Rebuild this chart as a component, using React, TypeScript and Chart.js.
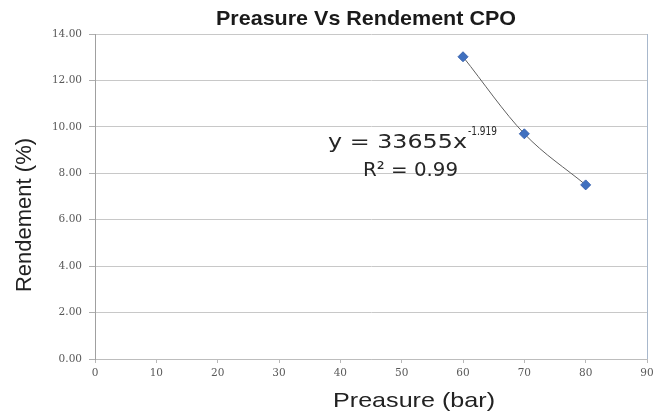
import React, { useEffect, useRef } from 'react';
import { Chart, registerables } from 'chart.js';

Chart.register(...registerables);

// ---- data ----
const pressure = [60, 70, 80];
const rendement = [13.02, 9.7, 7.5];
const xMin = 0;
const xMax = 90;
const xStep = 10;
const yMin = 0;
const yMax = 14;
const yStep = 2;
const chartTitle = 'Preasure Vs Rendement CPO';
const xAxisTitle = 'Preasure (bar)';
const yAxisTitle = 'Rendement (%)';
const equationMain = 'y = 33655x';
const equationExp = '-1.919';
const rSquaredText = 'R\u00B2 = 0.99';

function drawStretched(
  ctx: CanvasRenderingContext2D,
  text: string,
  x: number,
  y: number,
  font: string,
  width: number,
  center = false
) {
  ctx.save();
  ctx.font = font;
  const w = ctx.measureText(text).width;
  const sx = width / w;
  ctx.translate(x, y);
  ctx.scale(sx, 1);
  ctx.textAlign = 'left';
  ctx.textBaseline = 'alphabetic';
  ctx.fillText(text, center ? -w / 2 : 0, 0);
  ctx.restore();
}

const textPlugin = {
  id: 'textPlugin',
  afterDraw(chart: any) {
    const ctx: CanvasRenderingContext2D = chart.ctx;
    ctx.save();
    // title
    ctx.fillStyle = '#1a1a1a';
    drawStretched(ctx, chartTitle, 366, 25, 'bold 21px "Liberation Sans", Arial, sans-serif', 300, true);
    // x axis title
    ctx.fillStyle = '#222222';
    drawStretched(ctx, xAxisTitle, 414, 407, '21px "Liberation Sans", Arial, sans-serif', 162, true);
    // y axis title
    ctx.save();
    ctx.translate(31, 215);
    ctx.rotate(-Math.PI / 2);
    ctx.font = '22px "Liberation Sans", Arial, sans-serif';
    ctx.textAlign = 'center';
    ctx.textBaseline = 'alphabetic';
    ctx.fillText(yAxisTitle, 0, 0);
    ctx.restore();
    // equation
    ctx.fillStyle = '#262626';
    drawStretched(ctx, equationMain, 328, 148, '20px "DejaVu Sans", sans-serif', 139);
    drawStretched(ctx, equationExp, 468, 135, '12px "DejaVu Sans", sans-serif', 29);
    drawStretched(ctx, rSquaredText, 363, 176, '20px "DejaVu Sans", sans-serif', 95);
    ctx.restore();
  },
};

export default function App() {
  const canvasRef = useRef<HTMLCanvasElement | null>(null);

  useEffect(() => {
    document.body.style.margin = '0';
    const canvas = canvasRef.current;
    if (!canvas) return;
    const points = pressure.map((x, i) => ({ x, y: rendement[i] }));
    const chart = new Chart(canvas, {
      type: 'scatter',
      data: {
        datasets: [
          {
            data: points,
            pointStyle: 'rectRot',
            pointRadius: 5,
            pointBackgroundColor: '#4070bf',
            pointBorderColor: '#3a64b0',
            pointBorderWidth: 1,
            showLine: false,
          },
          {
            data: points,
            showLine: true,
            cubicInterpolationMode: 'monotone',
            pointRadius: 0,
            borderColor: '#606060',
            borderWidth: 1,
          },
        ],
      },
      options: {
        animation: false,
        responsive: false,
        maintainAspectRatio: false,
        layout: { padding: { top: 34, left: 0, right: 0, bottom: 0 } },
        plugins: {
          legend: { display: false },
          tooltip: { enabled: false },
          title: { display: false },
        },
        scales: {
          x: {
            type: 'linear',
            min: xMin,
            max: xMax,
            afterFit: (scale: any) => {
              scale.height = 53;
              scale.paddingRight = 3;
            },
            ticks: {
              stepSize: xStep,
              color: '#595959',
              font: { family: '"DejaVu Serif", serif', size: 10.5 },
              padding: 4,
              maxRotation: 0,
            },
            grid: {
              drawOnChartArea: true,
              color: (c: any) => (c.tick && c.tick.value === xMax ? '#a8b8cc' : 'rgba(0,0,0,0)'),
              tickColor: '#b8b8b8',
              tickLength: 4,
            },
            border: { color: '#bdbdbd', width: 1 },
          },
          y: {
            type: 'linear',
            min: yMin,
            max: yMax,
            afterFit: (scale: any) => {
              scale.width = 95;
            },
            ticks: {
              stepSize: yStep,
              color: '#595959',
              font: { family: '"DejaVu Serif", serif', size: 10.5 },
              padding: 7,
              callback: (v: any) => Number(v).toFixed(2),
            },
            grid: {
              color: '#c8c8c8',
              tickColor: '#b0b0b0',
              tickLength: 6,
            },
            border: { color: '#a0a0a0', width: 1 },
          },
        },
      },
      plugins: [textPlugin],
    });
    return () => chart.destroy();
  }, []);

  return (
    <div style={{ width: 653, height: 412, background: '#ffffff' }}>
      <canvas ref={canvasRef} width={653} height={412} style={{ display: 'block' }} />
    </div>
  );
}
